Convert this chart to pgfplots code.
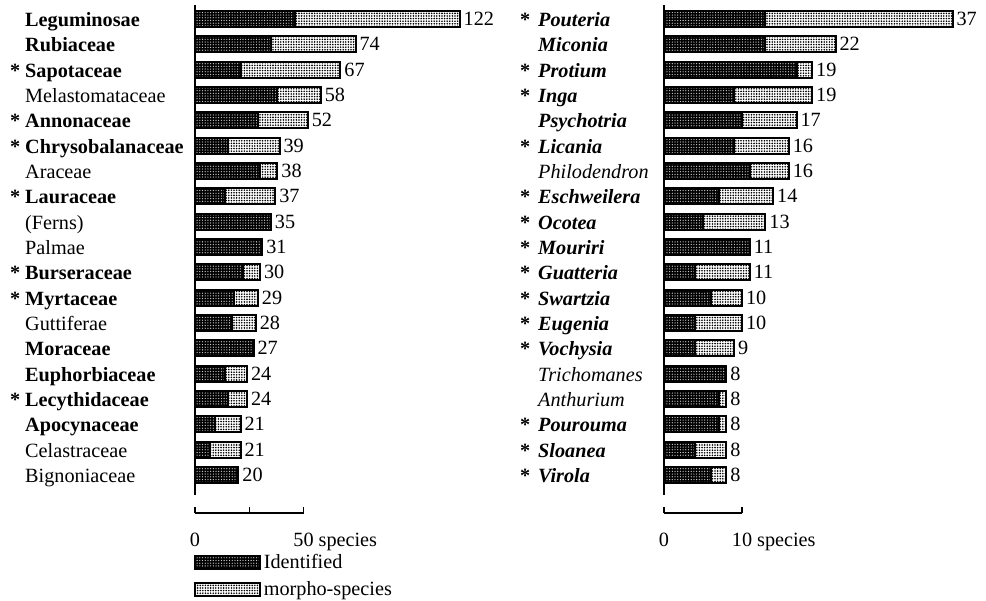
\documentclass[border=0pt]{standalone}
\usepackage{pgfplots}
\pgfplotsset{compat=1.18}
\usepackage{pgfplotstable}
\usepackage{fontspec}
\setmainfont{Liberation Serif}
\usetikzlibrary{patterns,patterns.meta}
\newcommand{\lf}{\fontsize{20.3}{24}\selectfont}
\newcommand{\labL}[2]{\makebox[15bp][l]{\textbf{#1}}#2}
\newcommand{\labR}[2]{\makebox[18bp][l]{\textbf{#1}}#2}
\newcommand{\bi}[1]{\textbf{\textit{#1}}}

\pgfplotstableread{
idx id mor tot
0 46 76 122
1 35 39 74
2 21 46 67
3 38 20 58
4 29 23 52
5 15 24 39
6 30 8 38
7 14 23 37
8 35 0 35
9 31 0 31
10 22 8 30
11 18 11 29
12 17 11 28
13 27 0 27
14 14 10 24
15 15 9 24
16 9 12 21
17 7 14 21
18 20 0 20
}\famtab

\pgfplotstableread{
idx id mor tot
0 13 24 37
1 13 9 22
2 17 2 19
3 9 10 19
4 10 7 17
5 9 7 16
6 11 5 16
7 7 7 14
8 5 8 13
9 11 0 11
10 4 7 11
11 6 4 10
12 4 6 10
13 4 5 9
14 8 0 8
15 7 1 8
16 7 1 8
17 4 4 8
18 6 2 8
}\gentab

\pgfplotsset{
  idstyle/.style={draw=black, line width=2bp, fill=black,
    postaction={pattern={Dots[distance=2.7bp, radius=0.65bp]}, pattern color=white!80!black}},
  morstyle/.style={draw=black, line width=2bp, fill=white,
    postaction={pattern={Dots[distance=2.6bp, radius=0.9bp]}, pattern color=black}},
}

\begin{document}
\begin{tikzpicture}
\useasboundingbox (0bp,0bp) rectangle (986bp,-601bp);

% ---------- families ----------
\begin{axis}[
  at={(195bp,-5bp)}, anchor=north west,
  x=2.17bp, y=25.33bp, y dir=reverse,
  xmin=0, xmax=130, ymin=-0.55, ymax=18.8,
  enlargelimits=false, clip=false,
  hide x axis, axis y line*=left,
  y axis line style={line width=1.2bp},
  ytick={0,...,18}, major tick length=0pt,
  yticklabels={
    \labL{}{\textbf{Leguminosae}},
    \labL{}{\textbf{Rubiaceae}},
    \labL{*}{\textbf{Sapotaceae}},
    \labL{}{Melastomataceae},
    \labL{*}{\textbf{Annonaceae}},
    \labL{*}{\textbf{Chrysobalanaceae}},
    \labL{}{Araceae},
    \labL{*}{\textbf{Lauraceae}},
    \labL{}{(Ferns)},
    \labL{}{Palmae},
    \labL{*}{\textbf{Burseraceae}},
    \labL{*}{\textbf{Myrtaceae}},
    \labL{}{Guttiferae},
    \labL{}{\textbf{Moraceae}},
    \labL{}{\textbf{Euphorbiaceae}},
    \labL{*}{\textbf{Lecythidaceae}},
    \labL{}{\textbf{Apocynaceae}},
    \labL{}{Celastraceae},
    \labL{}{Bignoniaceae}},
  yticklabel style={anchor=base west, xshift=-185bp, yshift=-7.5bp, inner sep=0pt, font=\lf},
  xbar, bar width=16bp, bar shift=0pt,
  /pgf/number format/assume math mode=true,
  nodes near coords style={font=\lf, inner sep=3bp, anchor=west},
  legend image code/.code={\draw[#1] (0bp,-6.5bp) rectangle (65bp,6.5bp);},
  legend style={at={(axis cs:-0.4,21.04)}, anchor=north west, draw=none, fill=none,
    inner sep=0pt, font=\lf, row sep=6bp, nodes={inner sep=2.5bp}},
  legend cell align=left, reverse legend,
]
\addplot[morstyle, nodes near coords, point meta=x] table[x=tot, y=idx] {\famtab};
\addplot[idstyle] table[x=id, y=idx] {\famtab};
\legend{morpho-species, Identified}
\end{axis}

\begin{axis}[
  at={(195bp,-513bp)}, anchor=south west,
  x=2.17bp, y=6bp, xmin=0, xmax=50, ymin=0, ymax=1,
  enlargelimits=false, hide y axis, axis x line*=bottom,
  x axis line style={line width=1.2bp, black},
  xtick={0,25,50}, xticklabels={0,,50\rlap{~species}},
  tick align=inside, major tick length=6bp,
  tick style={line width=1.2bp, black},
  xticklabel style={font=\lf, yshift=-17bp},
]
\end{axis}

% ---------- genera ----------
\begin{axis}[
  at={(664bp,-5bp)}, anchor=north west,
  x=7.8bp, y=25.33bp, y dir=reverse,
  xmin=0, xmax=40, ymin=-0.55, ymax=18.8,
  enlargelimits=false, clip=false,
  hide x axis, axis y line*=left,
  y axis line style={line width=1.2bp},
  ytick={0,...,18}, major tick length=0pt,
  yticklabels={
    \labR{*}{\bi{Pouteria}},
    \labR{}{\bi{Miconia}},
    \labR{*}{\bi{Protium}},
    \labR{*}{\bi{Inga}},
    \labR{}{\bi{Psychotria}},
    \labR{*}{\bi{Licania}},
    \labR{}{\textit{Philodendron}},
    \labR{*}{\bi{Eschweilera}},
    \labR{*}{\bi{Ocotea}},
    \labR{*}{\bi{Mouriri}},
    \labR{*}{\bi{Guatteria}},
    \labR{*}{\bi{Swartzia}},
    \labR{*}{\bi{Eugenia}},
    \labR{*}{\bi{Vochysia}},
    \labR{}{\textit{Trichomanes}},
    \labR{}{\textit{Anthurium}},
    \labR{*}{\bi{Pourouma}},
    \labR{*}{\bi{Sloanea}},
    \labR{*}{\bi{Virola}}},
  yticklabel style={anchor=base west, xshift=-144bp, yshift=-7.5bp, inner sep=0pt, font=\lf},
  xbar, bar width=16bp, bar shift=0pt,
  /pgf/number format/assume math mode=true,
  nodes near coords style={font=\lf, inner sep=3bp, anchor=west},
]
\addplot[morstyle, nodes near coords, point meta=x] table[x=tot, y=idx] {\gentab};
\addplot[idstyle] table[x=id, y=idx] {\gentab};
\end{axis}

\begin{axis}[
  at={(664bp,-513bp)}, anchor=south west,
  x=7.8bp, y=6bp, xmin=0, xmax=10, ymin=0, ymax=1,
  enlargelimits=false, hide y axis, axis x line*=bottom,
  x axis line style={line width=1.2bp, black},
  xtick={0,10}, xticklabels={0,10\rlap{~species}},
  tick align=inside, major tick length=6bp,
  tick style={line width=1.2bp, black},
  xticklabel style={font=\lf, yshift=-17bp},
]
\end{axis}
\end{tikzpicture}
\end{document}
